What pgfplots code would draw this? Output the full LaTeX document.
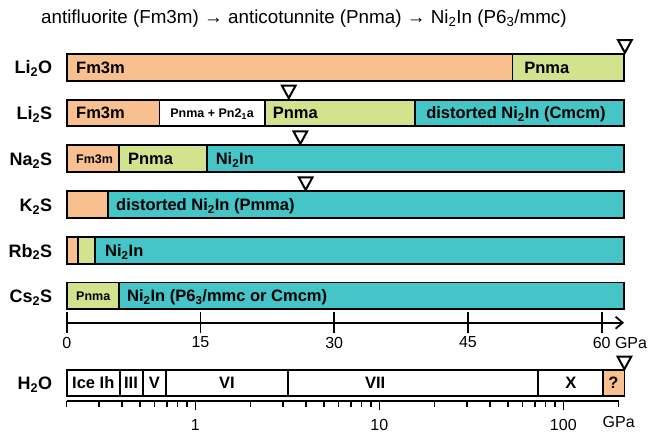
\documentclass[border=0pt]{standalone}
\usepackage{pgfplots}
\pgfplotsset{compat=1.18}
\usepackage{fontspec}
\setmainfont{Liberation Sans}
\usetikzlibrary{arrows.meta}

\definecolor{phOr}{HTML}{F9C08F}
\definecolor{phGr}{HTML}{D2E38E}
\definecolor{phTe}{HTML}{45C5C7}

\newcommand{\sub}[1]{\textsubscript{#1}}
\newcommand{\lblfont}{\fontsize{16.5}{19}\selectfont\bfseries}
\newcommand{\rowfont}{\fontsize{18}{21}\selectfont\bfseries}
\newcommand{\smlfont}{\fontsize{12.5}{15}\selectfont\bfseries}

% open triangle pointing down, tip at the mark position
\pgfdeclareplotmark{dtri}{%
  \pgfpathmoveto{\pgfqpoint{0pt}{0pt}}%
  \pgfpathlineto{\pgfqpoint{-6.8pt}{12.5pt}}%
  \pgfpathlineto{\pgfqpoint{6.8pt}{12.5pt}}%
  \pgfpathclose
  \pgfusepathqfillstroke}

\pgfplotsset{
  phase/.style={xbar, bar width=26.6pt, bar shift=0pt, draw=black, line width=1.8pt},
  seg/.style={draw=black, line width=1.8pt, fill=#1},
}

\begin{document}
\begin{tikzpicture}
% ---------- sulfides and Li2O on a linear pressure scale ----------
\begin{axis}[
  at={(66.7pt,110.3pt)}, anchor=south west,
  scale only axis, width=557.3pt, height=322.7pt,
  xmin=0, xmax=62.5, ymin=110.3, ymax=433,
  clip=false,
  axis x line=bottom, axis y line=none, ytick=\empty,
  x axis line style={line width=1.8pt, -{Straight Barb[length=7pt,width=12pt,line width=1.8pt]}},
  xtick={0,15,30,45,60},
  xticklabels={0,15,30,45,{60\rlap{\ GPa}}},
  major tick length=21pt, tick align=center,
  tick style={line width=1.8pt, black},
  xticklabel style={font=\fontsize{16}{19}\selectfont, inner sep=0pt, yshift=-3.5pt},
]
% phases drawn longest first, each shorter phase on top
\addplot[phase, fill=phTe] coordinates {(62.5,320) (62.5,274.3) (62.5,228.3) (62.5,182.4) (62.5,137.1)};
\addplot[phase, fill=phGr] coordinates {(62.5,365.5) (39.1,320) (15.7,274.3) (3.17,182.4) (5.87,137.1)};
\addplot[phase, fill=white] coordinates {(22.2,320)};
\addplot[phase, fill=phOr] coordinates {(50,365.5) (10.4,320) (5.87,274.3) (4.6,228.3) (1.3,182.4)};

% metallization / transition markers
\addplot[only marks, mark=dtri, mark options={fill=white, draw=black, line width=2pt}]
  coordinates {(62.6,380.3) (24.9,334.8) (26.2,289.1) (26.8,243.1)};

\begin{scope}[every node/.style={inner sep=0pt}]
\node[anchor=base] at (axis cs:26.6,409.5) {\fontsize{18.8}{22}\selectfont antifluorite (Fm3m) → anticotunnite (Pnma) → Ni\sub{2}In (P6\sub{3}/mmc)};

\node[anchor=base east] at (axis cs:-1.6,359) {\rowfont Li\sub{2}O};
\node[anchor=base east] at (axis cs:-1.6,313.5) {\rowfont Li\sub{2}S};
\node[anchor=base east] at (axis cs:-1.6,267.8) {\rowfont Na\sub{2}S};
\node[anchor=base east] at (axis cs:-1.6,221.8) {\rowfont K\sub{2}S};
\node[anchor=base east] at (axis cs:-1.6,175.9) {\rowfont Rb\sub{2}S};
\node[anchor=base east] at (axis cs:-1.6,130.6) {\rowfont Cs\sub{2}S};

\node[anchor=base west] at (axis cs:1.04,359.5) {\lblfont Fm3m};
\node[anchor=base west] at (axis cs:51.3,359.5) {\lblfont Pnma};

\node[anchor=base west] at (axis cs:1.04,314) {\lblfont Fm3m};
\node[anchor=base west] at (axis cs:11.6,315.4) {\smlfont Pnma + Pn2\sub{1}a};
\node[anchor=base west] at (axis cs:23.1,314) {\lblfont Pnma};
\node[anchor=base west] at (axis cs:40.3,314) {\lblfont distorted Ni\sub{2}In (Cmcm)};

\node[anchor=base west] at (axis cs:1.04,269.8) {\smlfont Fm3m};
\node[anchor=base west] at (axis cs:6.87,268.3) {\lblfont Pnma};
\node[anchor=base west] at (axis cs:16.7,268.3) {\lblfont Ni\sub{2}In};

\node[anchor=base west] at (axis cs:5.53,222.3) {\lblfont distorted Ni\sub{2}In (Pmma)};
\node[anchor=base west] at (axis cs:4.3,176.4) {\lblfont Ni\sub{2}In};

\node[anchor=base west] at (axis cs:1.04,132.6) {\smlfont Pnma};
\node[anchor=base west] at (axis cs:6.76,131.1) {\lblfont Ni\sub{2}In (P6\sub{3}/mmc or Cmcm)};
\end{scope}
\end{axis}

% ---------- ice phases on a logarithmic pressure scale ----------
\begin{axis}[
  at={(66.7pt,32pt)}, anchor=south west,
  scale only axis, width=552pt, height=41pt,
  xmode=log, xmin=0.2, xmax=200, ymin=32, ymax=73,
  clip=false,
  axis x line=bottom, axis y line=none, ytick=\empty,
  x axis line style={line width=1.8pt, -},
  xtick={1,10,100}, xticklabels={1,10,100},
  minor xtick={0.2,0.3,0.4,0.5,0.6,0.7,0.8,0.9,2,3,4,5,6,7,8,9,20,30,40,50,60,70,80,90},
  extra x ticks={200}, extra x tick labels={GPa},
  extra x tick style={major tick length=6pt},
  tick align=outside, major tick length=9pt, minor tick length=6pt,
  tick style={line width=1.5pt, black},
  xticklabel style={font=\fontsize{16}{19}\selectfont, inner sep=0pt, yshift=-9pt},
]
\addplot[seg=white] coordinates {(0.2,37) (0.39,37) (0.39,63) (0.2,63)} -- cycle;
\addplot[seg=white] coordinates {(0.39,37) (0.52,37) (0.52,63) (0.39,63)} -- cycle;
\addplot[seg=white] coordinates {(0.52,37) (0.69,37) (0.69,63) (0.52,63)} -- cycle;
\addplot[seg=white] coordinates {(0.69,37) (3.19,37) (3.19,63) (0.69,63)} -- cycle;
\addplot[seg=white] coordinates {(3.19,37) (72.9,37) (72.9,63) (3.19,63)} -- cycle;
\addplot[seg=white] coordinates {(72.9,37) (163.6,37) (163.6,63) (72.9,63)} -- cycle;
\addplot[seg=phOr] coordinates {(163.6,37) (214.8,37) (214.8,63) (163.6,63)} -- cycle;

\addplot[only marks, mark=dtri, mark options={fill=white, draw=black, line width=2pt}]
  coordinates {(214.8,63.8)};

\begin{scope}[every node/.style={inner sep=0pt}]
\node[anchor=base east] at (axis cs:0.167,43.5) {\rowfont H\sub{2}O};
\node[anchor=base] at (axis cs:0.279,44) {\lblfont Ice Ih};
\node[anchor=base] at (axis cs:0.447,44) {\lblfont III};
\node[anchor=base] at (axis cs:0.599,44) {\lblfont V};
\node[anchor=base] at (axis cs:1.487,44) {\lblfont VI};
\node[anchor=base] at (axis cs:9.5,44) {\lblfont VII};
\node[anchor=base] at (axis cs:110,44) {\lblfont X};
\node[anchor=base] at (axis cs:187,44) {\lblfont ?};
\end{scope}
\end{axis}

\pgfresetboundingbox
\path[use as bounding box] (0,0) rectangle (650pt,433pt);
\end{tikzpicture}
\end{document}
